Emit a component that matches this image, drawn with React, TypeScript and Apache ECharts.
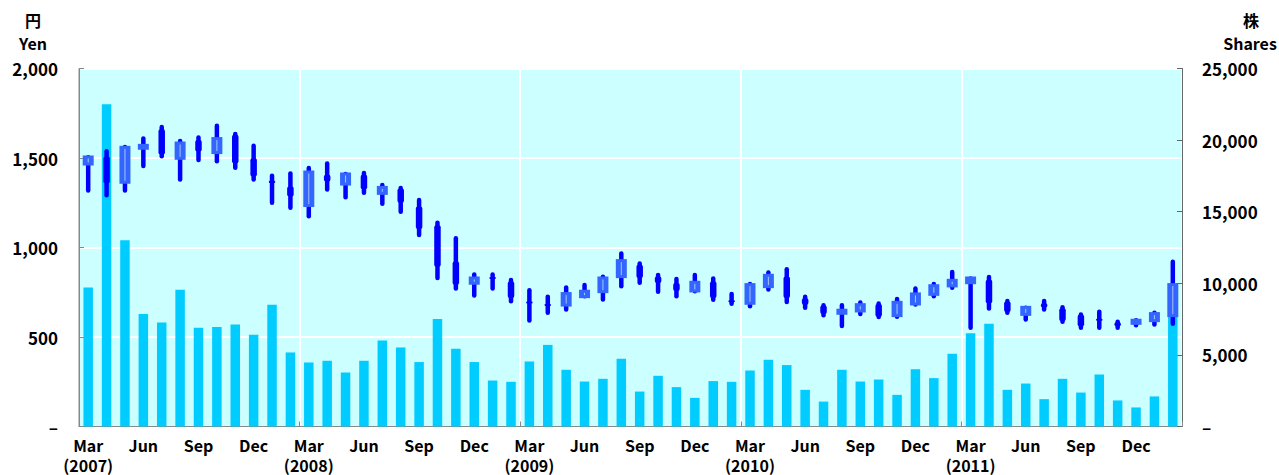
import React, { useEffect, useRef } from "react";
import * as echarts from "echarts";

const categories = [
  "2007-03","2007-04","2007-05","2007-06","2007-07","2007-08","2007-09","2007-10","2007-11","2007-12",
  "2008-01","2008-02","2008-03","2008-04","2008-05","2008-06","2008-07","2008-08","2008-09","2008-10","2008-11","2008-12",
  "2009-01","2009-02","2009-03","2009-04","2009-05","2009-06","2009-07","2009-08","2009-09","2009-10","2009-11","2009-12",
  "2010-01","2010-02","2010-03","2010-04","2010-05","2010-06","2010-07","2010-08","2010-09","2010-10","2010-11","2010-12",
  "2011-01","2011-02","2011-03","2011-04","2011-05","2011-06","2011-07","2011-08","2011-09","2011-10","2011-11","2011-12",
  "2012-01","2012-02",
];

const tickLabels = [
  "Mar\n(2007)","","","Jun","","","Sep","","","Dec",
  "","","Mar\n(2008)","","","Jun","","","Sep","","","Dec",
  "","","Mar\n(2009)","","","Jun","","","Sep","","","Dec",
  "","","Mar\n(2010)","","","Jun","","","Sep","","","Dec",
  "","","Mar\n(2011)","","","Jun","","","Sep","","","Dec",
  "","",
];

const openPrice = [
  1458,1508,1356,1546,1660,1490,1601,1522,1630,1499,
  1373,1341,1226,1406,1346,1406,1294,1330,1229,1124,922,792,
  835,810,698,685,670,717,745,829,903,838,801,749,
  810,705,680,773,838,717,676,624,637,685,611,676,
  730,777,795,820,698,618,689,661,624,602,583,568,
  583,611,
];
const closePrice = [
  1514,1359,1568,1579,1520,1592,1536,1617,1471,1397,
  1360,1285,1430,1369,1419,1326,1344,1250,1104,892,792,838,
  830,718,688,680,751,764,838,935,829,801,757,814,
  718,700,801,853,718,680,628,658,689,613,702,749,
  795,825,838,688,640,674,665,590,560,598,560,602,
  639,801,
];
const lowPrice = [
  1307,1281,1307,1444,1499,1369,1477,1471,1434,1369,
  1239,1211,1164,1313,1270,1294,1233,1188,1058,819,760,721,
  760,689,581,624,642,717,698,773,792,741,717,745,
  697,674,661,754,685,652,611,550,618,600,602,670,
  717,764,540,648,624,587,642,574,540,540,540,555,
  559,563,
];
const highPrice = [
  1516,1549,1572,1620,1685,1606,1626,1691,1645,1579,
  1412,1425,1456,1480,1422,1428,1360,1344,1276,1149,1063,860,
  860,829,773,736,788,801,848,978,922,857,835,857,
  838,751,807,871,890,736,689,689,704,698,723,782,
  807,875,838,847,712,674,712,678,637,652,596,605,
  646,931,
];
const volume = [
  9700,22500,13000,7850,7260,9550,6890,6940,7120,6400,
  8500,5170,4470,4590,3770,4590,6010,5520,4500,7500,5430,4500,
  3210,3120,4540,5700,3960,3140,3330,4730,2440,3540,2750,2000,
  3170,3120,3910,4660,4290,2560,1740,3960,3140,3280,2210,4000,
  3380,5080,6520,7170,2560,3000,1910,3330,2370,3630,1820,1330,
  2100,7700,
];

const FONT = '"Noto Sans CJK JP", "Noto Sans", sans-serif';
const FS = 17;

export default function App() {
  const ref = useRef<HTMLDivElement>(null);
  useEffect(() => {
    if (!ref.current) return;
    const chart = echarts.init(ref.current, null, { renderer: "svg" });
    const candleData = categories.map((_, i) => [i, openPrice[i], closePrice[i], lowPrice[i], highPrice[i]]);
    const labelStyle = { fontFamily: FONT, fontSize: FS, fontWeight: "bold" as const, color: "#000" };
    const renderItem = (params: any, api: any) => {
      const i = api.value(0);
      const o = api.value(1), c = api.value(2), l = api.value(3), h = api.value(4);
      const pO = api.coord([i, o]);
      const pC = api.coord([i, c]);
      const pL = api.coord([i, l]);
      const pH = api.coord([i, h]);
      const x = pO[0];
      const children: any[] = [
        {
          type: "line",
          shape: { x1: x, y1: pH[1] + 2, x2: x, y2: pL[1] - 2 },
          style: { stroke: "#0000FF", lineWidth: 4.5, lineCap: "round" },
        },
      ];
      if (c >= o) {
        const top = pC[1];
        const hgt = Math.max(pO[1] - pC[1], 2);
        children.push({
          type: "rect",
          shape: { x: x - 5.5, y: top, width: 11, height: hgt },
          style: { fill: "#3366FF" },
        });
        if (hgt > 8) {
          children.push({
            type: "line",
            shape: { x1: x, y1: top + 3, x2: x, y2: top + hgt - 3 },
            style: { stroke: "#A8C4FF", lineWidth: 1 },
          });
        }
      } else {
        const hgt = Math.max(pC[1] - pO[1], 2);
        children.push({
          type: "rect",
          shape: { x: x - 3.25, y: pO[1], width: 6.5, height: hgt, r: 2 },
          style: { fill: "#0000FF" },
        });
      }
      return { type: "group", children };
    };
    const titleStyle = { textAlign: "center", textVerticalAlign: "middle", fontFamily: FONT, fontSize: 16, fontWeight: "bold", fill: "#000" };
    chart.setOption({
      animation: false,
      grid: {
        left: 79,
        right: 97,
        top: 68.5,
        bottom: 48.5,
        show: true,
        backgroundColor: "#CCFFFF",
        borderColor: "#888888",
        borderWidth: 1,
      },
      xAxis: {
        type: "category",
        data: categories,
        boundaryGap: true,
        axisLine: { show: true, lineStyle: { color: "#888888" } },
        axisTick: {
          show: true,
          inside: true,
          length: 5,
          interval: (i: number) => i % 12 === 0,
          lineStyle: { color: "#888888" },
        },
        axisLabel: {
          interval: 0,
          formatter: (_v: string, i: number) => tickLabels[i],
          ...labelStyle,
          fontSize: 16,
          lineHeight: 20,
          margin: 8,
        },
        splitLine: {
          show: true,
          interval: (i: number) => i % 12 === 0 && i > 0,
          lineStyle: { color: "#FFFFFF", width: 2 },
        },
      },
      yAxis: [
        {
          type: "value",
          position: "left",
          min: 0,
          max: 2000,
          interval: 500,
          axisLine: { show: true, lineStyle: { color: "#888888" } },
          axisTick: { show: true, inside: true, length: 5, lineStyle: { color: "#888888" } },
          axisLabel: {
            formatter: (v: number) => (v === 0 ? "–" : v.toLocaleString("en-US")),
            margin: 21,
            ...labelStyle,
          },
          splitLine: { show: true, lineStyle: { color: "#FFFFFF", width: 2 } },
        },
        {
          type: "value",
          position: "right",
          min: 0,
          max: 25000,
          interval: 5000,
          axisLine: { show: true, lineStyle: { color: "#666666" } },
          axisTick: { show: true, inside: true, length: 5, lineStyle: { color: "#666666" } },
          axisLabel: {
            formatter: (v: number) => (v === 0 ? "–" : v.toLocaleString("en-US")),
            margin: 20,
            ...labelStyle,
          },
          splitLine: { show: false },
        },
      ],
      graphic: [
        { type: "text", x: 33, y: 20, style: { text: "円", ...titleStyle } },
        { type: "text", x: 33, y: 43, style: { text: "Yen", ...titleStyle } },
        { type: "text", x: 1251, y: 20, style: { text: "株", ...titleStyle } },
        { type: "text", x: 1250, y: 43, style: { text: "Shares", ...titleStyle } },
      ],
      series: [
        {
          type: "bar",
          yAxisIndex: 1,
          data: volume,
          barWidth: 9.5,
          itemStyle: { color: "#00CCFF" },
          z: 2,
        },
        {
          type: "custom",
          yAxisIndex: 0,
          data: candleData,
          encode: { x: 0, y: [1, 2, 3, 4] },
          renderItem,
          z: 3,
        },
      ],
    });
    return () => chart.dispose();
  }, []);
  return <div ref={ref} style={{ position: "absolute", left: 0, top: 0, width: 1279, height: 475 }} />;
}
